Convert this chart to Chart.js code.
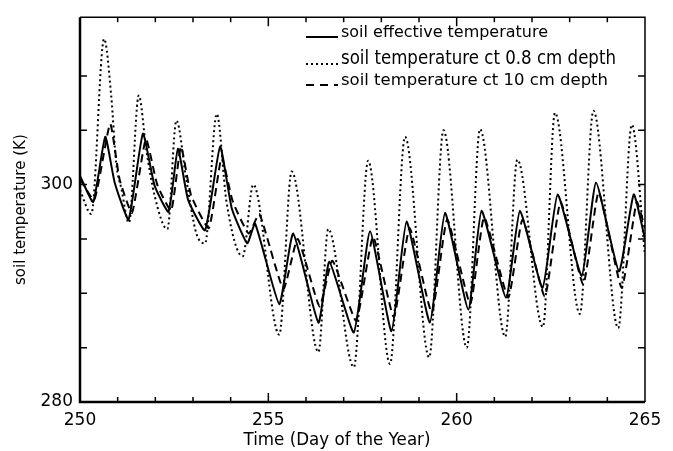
<!DOCTYPE html>
<html>
<head>
<meta charset="utf-8">
<script src="https://cdn.jsdelivr.net/npm/chart.js@4.4.1/dist/chart.umd.min.js"></script>
<style>
  html, body { margin: 0; padding: 0; background: #fff; }
  #wrap { width: 673px; height: 451px; }
</style>
</head>
<body>
<div id="wrap"><canvas id="soilChart" width="673" height="451"></canvas></div>
<script>
// soil effective temperature (K) vs day of year
const effDays  = [250.00, 250.35, 250.67, 250.92, 251.29, 251.67, 251.98, 252.35, 252.60, 252.87, 253.32, 253.72, 254.03, 254.44, 254.65, 255.29, 255.66, 256.33, 256.62, 257.27, 257.70, 258.27, 258.67, 259.29, 259.69, 260.31, 260.66, 261.31, 261.68, 262.28, 262.68, 263.32, 263.70, 264.31, 264.70, 265.00];
const effTemps = [300.8, 298.4, 304.4, 300.2, 296.8, 304.7, 299.9, 297.5, 303.3, 298.6, 295.8, 303.5, 297.8, 294.6, 296.4, 289.0, 295.5, 287.3, 292.9, 286.4, 295.7, 286.5, 296.6, 287.3, 297.4, 288.5, 297.6, 289.6, 297.6, 290.5, 299.1, 291.6, 300.2, 292.0, 299.1, 295.0];

// soil temperature at 0.8 cm depth
const d08Days  = [250.00, 250.30, 250.64, 250.83, 250.96, 251.10, 251.30, 251.56, 251.76, 251.98, 252.32, 252.56, 252.82, 253.09, 253.32, 253.63, 253.89, 254.32, 254.60, 255.29, 255.62, 256.33, 256.59, 257.27, 257.65, 258.23, 258.63, 259.27, 259.65, 260.27, 260.62, 261.29, 261.61, 262.29, 262.61, 263.27, 263.63, 264.29, 264.65, 265.00];
const d08Temps = [299.5, 297.3, 313.4, 308.1, 302.0, 299.6, 296.5, 308.2, 303.2, 299.0, 295.9, 305.9, 300.5, 295.5, 294.6, 306.5, 298.4, 293.4, 300.0, 286.2, 301.2, 284.6, 295.9, 283.2, 302.2, 283.5, 304.4, 284.1, 305.0, 285.0, 305.1, 286.0, 302.3, 286.9, 306.6, 288.1, 306.8, 286.8, 305.5, 293.5];

// soil temperature at 10 cm depth
const d10Days  = [250.00, 250.38, 250.80, 251.05, 251.38, 251.75, 252.05, 252.42, 252.68, 252.95, 253.42, 253.76, 254.05, 254.48, 254.76, 255.40, 255.78, 256.36, 256.70, 257.33, 257.78, 258.33, 258.75, 259.34, 259.75, 260.36, 260.73, 261.37, 261.75, 262.34, 262.76, 263.36, 263.77, 264.38, 264.78, 265.00];
const d10Temps = [300.5, 298.6, 305.6, 300.5, 297.4, 304.2, 300.0, 297.6, 303.5, 299.0, 296.0, 302.5, 298.5, 295.5, 297.3, 290.4, 295.0, 288.8, 293.0, 287.5, 295.2, 287.8, 296.0, 288.2, 296.8, 289.0, 297.0, 289.6, 296.8, 289.7, 298.4, 290.8, 299.3, 290.5, 298.4, 296.0];

const xLabels = [250, 255, 260, 265];
const yLabels = [280, 300];
const xTitle = 'Time (Day of the Year)';
const legendLabels = [
  'soil effective temperature',
  'soil temperature ct 0.8 cm depth',
  'soil temperature ct 10 cm depth'
];

function pts(days, temps) {
  return days.map((d, i) => ({ x: d, y: temps[i] }));
}

// text squeezed/stretched to a given width
function fitText(ctx, text, x, y, font, width, align) {
  ctx.font = font;
  const w = ctx.measureText(text).width;
  const k = width / w;
  ctx.save();
  ctx.translate(x, y);
  ctx.scale(k, 1);
  ctx.textAlign = align;
  ctx.textBaseline = 'middle';
  ctx.fillText(text, 0, 0);
  ctx.restore();
}

// box, inward tick marks, x title and the legend
const frameAndLegend = {
  id: 'frameAndLegend',
  afterDraw(chart) {
    const ctx = chart.ctx;
    const a = chart.chartArea;
    const xs = chart.scales.x, ys = chart.scales.y;
    ctx.save();
    ctx.strokeStyle = '#000';
    ctx.fillStyle = '#000';
    ctx.lineCap = 'butt';
    ctx.setLineDash([]);

    // frame: heavier on left/bottom
    ctx.lineWidth = 1.5;
    ctx.beginPath();
    ctx.moveTo(a.left, a.top); ctx.lineTo(a.right, a.top); ctx.lineTo(a.right, a.bottom);
    ctx.stroke();
    ctx.lineWidth = 2.5;
    ctx.beginPath();
    ctx.moveTo(a.left, a.top); ctx.lineTo(a.left, a.bottom); ctx.lineTo(a.right, a.bottom);
    ctx.stroke();

    // day ticks on bottom and top
    ctx.lineWidth = 1.5;
    for (let d = 251; d < 265; d++) {
      const px = xs.getPixelForValue(d);
      const len = d % 5 === 0 ? 9 : 5;
      ctx.beginPath();
      ctx.moveTo(px, a.bottom); ctx.lineTo(px, a.bottom - len);
      ctx.moveTo(px, a.top); ctx.lineTo(px, a.top + len);
      ctx.stroke();
    }
    // temperature ticks every 5 K on left and right
    for (let t = 285; t <= 310; t += 5) {
      const py = ys.getPixelForValue(t);
      ctx.beginPath();
      ctx.moveTo(a.left, py); ctx.lineTo(a.left + 7, py);
      ctx.moveTo(a.right, py); ctx.lineTo(a.right - 7, py);
      ctx.stroke();
    }

    // x axis title, a little left of centre
    fitText(ctx, xTitle, 337, 441, '17px "DejaVu Sans"', 187, 'center');

    // legend
    const styles = chart.data.datasets.map(ds => ({ dash: ds.borderDash || [], w: ds.borderWidth }));
    const rows = [
      { y: 37, ty: 33, font: '15px "DejaVu Sans"', width: 207 },
      { y: 64, ty: 59, font: '19px "DejaVu Sans"', width: 275 },
      { y: 85, ty: 81, font: '15px "DejaVu Sans"', width: 267 }
    ];
    rows.forEach((r, i) => {
      ctx.setLineDash(i === 2 ? [8, 6] : styles[i].dash);
      ctx.lineWidth = styles[i].w;
      ctx.beginPath();
      ctx.moveTo(306, r.y); ctx.lineTo(338, r.y);
      ctx.stroke();
      ctx.setLineDash([]);
      fitText(ctx, legendLabels[i], 341, r.ty, r.font, r.width, 'left');
    });
    ctx.restore();
  }
};

const ctx = document.getElementById('soilChart').getContext('2d');
new Chart(ctx, {
  type: 'line',
  data: {
    datasets: [
      {
        label: legendLabels[0],
        data: pts(effDays, effTemps),
        borderColor: '#000',
        borderWidth: 2,
        pointRadius: 0,
        tension: 0.15
      },
      {
        label: legendLabels[1],
        data: pts(d08Days, d08Temps),
        borderColor: '#000',
        borderWidth: 2,
        borderDash: [2, 3],
        pointRadius: 0,
        cubicInterpolationMode: 'monotone'
      },
      {
        label: legendLabels[2],
        data: pts(d10Days, d10Temps),
        borderColor: '#000',
        borderWidth: 2,
        borderDash: [8, 5],
        pointRadius: 0,
        tension: 0.15
      }
    ]
  },
  options: {
    responsive: false,
    animation: false,
    layout: { padding: { left: 0, top: 13, right: 28, bottom: 4 } },
    plugins: {
      legend: { display: false },
      tooltip: { enabled: false }
    },
    scales: {
      x: {
        type: 'linear',
        min: 250,
        max: 265,
        afterFit: s => { s.height = 45; },
        afterBuildTicks: s => { s.ticks = xLabels.map(v => ({ value: v })); },
        ticks: {
          color: '#000',
          padding: 8,
          maxRotation: 0,
          font: { family: 'DejaVu Sans', size: 17 }
        },
        grid: { display: false, drawTicks: false },
        border: { display: false }
      },
      y: {
        type: 'linear',
        min: 280,
        max: 315.4,
        afterFit: s => { s.width = 80; },
        afterBuildTicks: s => { s.ticks = yLabels.map(v => ({ value: v })); },
        ticks: {
          color: '#000',
          padding: 7,
          font: { family: 'DejaVu Sans', size: 17 }
        },
        grid: { display: false, drawTicks: false },
        border: { display: false },
        title: {
          display: true,
          text: 'soil temperature (K)',
          color: '#000',
          font: { family: 'DejaVu Sans', size: 15 },
          padding: { top: 12, bottom: 0 }
        }
      }
    }
  },
  plugins: [frameAndLegend]
});
</script>
</body>
</html>
